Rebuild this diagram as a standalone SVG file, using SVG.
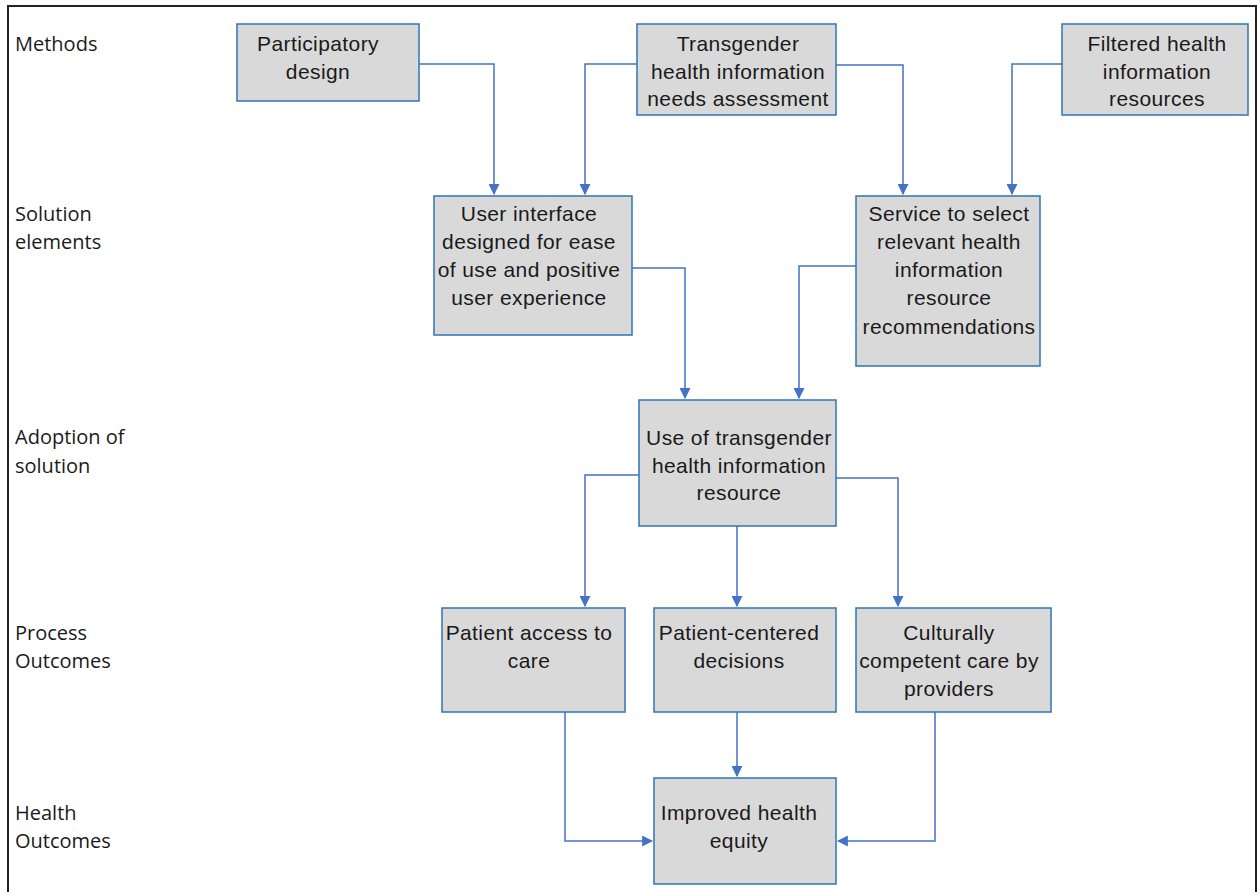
<svg xmlns="http://www.w3.org/2000/svg" width="1260" height="892" viewBox="0 0 1260 892">
<style>
.box{fill:#d9d9d9;stroke:#2e75b6;stroke-width:1.5}
.t{font-family:"Liberation Sans",Arial,sans-serif;font-size:21px;letter-spacing:0.4px;fill:#1a1a1a;text-anchor:middle}
.lab{font-family:"Open Sans","DejaVu Sans",sans-serif;font-size:20px;fill:#1a1a1a}
.c{fill:none;stroke:#4472c4;stroke-width:1.5}
</style>
<defs>
<marker id="ah" viewBox="0 0 10 10" refX="9" refY="5" markerWidth="11" markerHeight="11" markerUnits="userSpaceOnUse" orient="auto">
<path d="M0,0 L10,5 L0,10 z" fill="#4472c4"/>
</marker>
</defs>
<rect x="0" y="0" width="1260" height="892" fill="#fff"/>
<rect x="8" y="6" width="1248" height="892" fill="none" stroke="#222" stroke-width="2"/>
<g id="labels">
<text class="lab" x="15" y="51">Methods</text>
<text class="lab" x="15" y="221">Solution</text>
<text class="lab" x="15" y="249">elements</text>
<text class="lab" x="15" y="444">Adoption of</text>
<text class="lab" x="15" y="473">solution</text>
<text class="lab" x="15" y="640">Process</text>
<text class="lab" x="15" y="668">Outcomes</text>
<text class="lab" x="15" y="820">Health</text>
<text class="lab" x="15" y="848">Outcomes</text>
</g>
<g id="connectors">
<path class="c" d="M419,64 H494 V194" marker-end="url(#ah)"/>
<path class="c" d="M637,64 H585 V194" marker-end="url(#ah)"/>
<path class="c" d="M836,65 H903 V194" marker-end="url(#ah)"/>
<path class="c" d="M1062,64 H1012 V194" marker-end="url(#ah)"/>
<path class="c" d="M632,268 H685 V398" marker-end="url(#ah)"/>
<path class="c" d="M856,266 H799 V398" marker-end="url(#ah)"/>
<path class="c" d="M639,475 H585 V606" marker-end="url(#ah)"/>
<path class="c" d="M737,526 V606" marker-end="url(#ah)"/>
<path class="c" d="M836,478 H898 V606" marker-end="url(#ah)"/>
<path class="c" d="M565,712 V841 H652" marker-end="url(#ah)"/>
<path class="c" d="M737,712 V776" marker-end="url(#ah)"/>
<path class="c" d="M935,712 V841 H838" marker-end="url(#ah)"/>
</g>
<g id="n1"><rect class="box" x="237" y="24" width="182" height="77"/>
<text class="t" x="318" y="51">Participatory</text><text class="t" x="318" y="79">design</text></g>
<g id="n2"><rect class="box" x="637" y="24" width="199" height="91"/>
<text class="t" x="738" y="51">Transgender</text><text class="t" x="738" y="79">health information</text><text class="t" x="738" y="106">needs assessment</text></g>
<g id="n3"><rect class="box" x="1062" y="24" width="186" height="91"/>
<text class="t" x="1157" y="51">Filtered health</text><text class="t" x="1157" y="79">information</text><text class="t" x="1157" y="106">resources</text></g>
<g id="n4"><rect class="box" x="434" y="196" width="198" height="139"/>
<text class="t" x="529" y="221">User interface</text><text class="t" x="529" y="249">designed for ease</text><text class="t" x="529" y="277">of use and positive</text><text class="t" x="529" y="305">user experience</text></g>
<g id="n5"><rect class="box" x="856" y="196" width="184" height="170"/>
<text class="t" x="949" y="221">Service to select</text><text class="t" x="949" y="249">relevant health</text><text class="t" x="949" y="277">information</text><text class="t" x="949" y="305">resource</text><text class="t" x="949" y="334">recommendations</text></g>
<g id="n6"><rect class="box" x="639" y="400" width="197" height="126"/>
<text class="t" x="739" y="445">Use of transgender</text><text class="t" x="739" y="473">health information</text><text class="t" x="739" y="500">resource</text></g>
<g id="n7"><rect class="box" x="442" y="608" width="183" height="104"/>
<text class="t" x="529" y="640">Patient access to</text><text class="t" x="529" y="668">care</text></g>
<g id="n8"><rect class="box" x="654" y="608" width="182" height="104"/>
<text class="t" x="739" y="640">Patient-centered</text><text class="t" x="739" y="668">decisions</text></g>
<g id="n9"><rect class="box" x="856" y="608" width="195" height="104"/>
<text class="t" x="949" y="640">Culturally</text><text class="t" x="949" y="668">competent care by</text><text class="t" x="949" y="696">providers</text></g>
<g id="n10"><rect class="box" x="654" y="778" width="182" height="106"/>
<text class="t" x="739" y="820">Improved health</text><text class="t" x="739" y="848">equity</text></g>
</svg>
